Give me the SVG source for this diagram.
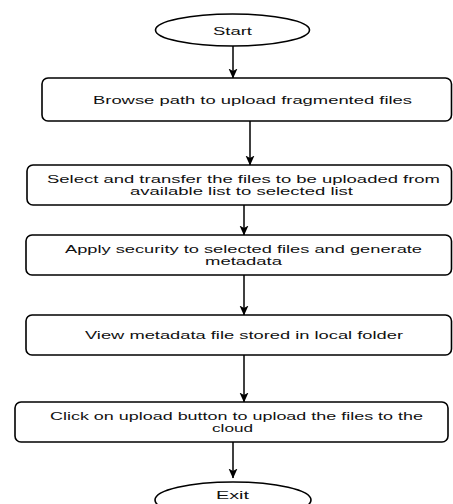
<svg xmlns="http://www.w3.org/2000/svg" width="453" height="504" viewBox="0 0 453 504">
<style>
.n{fill:#fff;stroke:#000;stroke-width:1.6}
.t{font-family:"Liberation Sans",Arial,sans-serif;font-size:11px;fill:#111;text-anchor:middle}
.s{font-size:10.5px}
.c{stroke:#000;stroke-width:1.5;fill:none;marker-end:url(#ah)}
</style>
<defs>
<marker id="ah" markerUnits="userSpaceOnUse" markerWidth="10" markerHeight="10" viewBox="0 0 10 10" refX="9.5" refY="5" orient="auto">
<path d="M0,0.5 L10,5 L0,9.5 L2.5,5 z" fill="#000"/>
</marker>
</defs>
<rect width="453" height="504" fill="#fff"/>
<g id="connectors">
<line class="c" x1="233" y1="46" x2="233" y2="78"/>
<line class="c" x1="250" y1="121" x2="250" y2="165"/>
<line class="c" x1="244" y1="205" x2="244" y2="235"/>
<line class="c" x1="244" y1="275" x2="244" y2="315"/>
<line class="c" x1="244" y1="355" x2="244" y2="402"/>
<line class="c" x1="233" y1="442" x2="233" y2="478"/>
</g>
<g id="start">
<ellipse class="n" cx="232.5" cy="30" rx="77" ry="16"/>
<text class="t" x="232.5" y="35" textLength="39" lengthAdjust="spacingAndGlyphs">Start</text>
</g>
<g id="browse">
<rect class="n" x="42" y="78" width="409.5" height="43" rx="6"/>
<text class="t" x="252.5" y="104" textLength="319" lengthAdjust="spacingAndGlyphs">Browse path to upload fragmented files</text>
</g>
<g id="select">
<rect class="n" x="27" y="165" width="424.5" height="40" rx="6"/>
<text class="t s" x="243.5" y="183" textLength="393" lengthAdjust="spacingAndGlyphs">Select and transfer the files to be uploaded from</text>
<text class="t s" x="241.5" y="195" textLength="223" lengthAdjust="spacingAndGlyphs">available list to selected list</text>
</g>
<g id="apply">
<rect class="n" x="26" y="235" width="425.5" height="40" rx="6"/>
<text class="t s" x="243.5" y="253" textLength="357" lengthAdjust="spacingAndGlyphs">Apply security to selected files and generate</text>
<text class="t s" x="243.5" y="265" textLength="77" lengthAdjust="spacingAndGlyphs">metadata</text>
</g>
<g id="view">
<rect class="n" x="26" y="315" width="425.5" height="40" rx="6"/>
<text class="t" x="244" y="339" textLength="318" lengthAdjust="spacingAndGlyphs">View metadata file stored in local folder</text>
</g>
<g id="upload">
<rect class="n" x="15" y="402" width="433" height="40" rx="6"/>
<text class="t s" x="236.5" y="420" textLength="373" lengthAdjust="spacingAndGlyphs">Click on upload button to upload the files to the</text>
<text class="t s" x="232.5" y="432" textLength="41" lengthAdjust="spacingAndGlyphs">cloud</text>
</g>
<g id="exit">
<ellipse class="n" cx="233" cy="500" rx="78" ry="18"/>
<text class="t" x="232.5" y="499" textLength="33" lengthAdjust="spacingAndGlyphs">Exit</text>
</g>
</svg>
